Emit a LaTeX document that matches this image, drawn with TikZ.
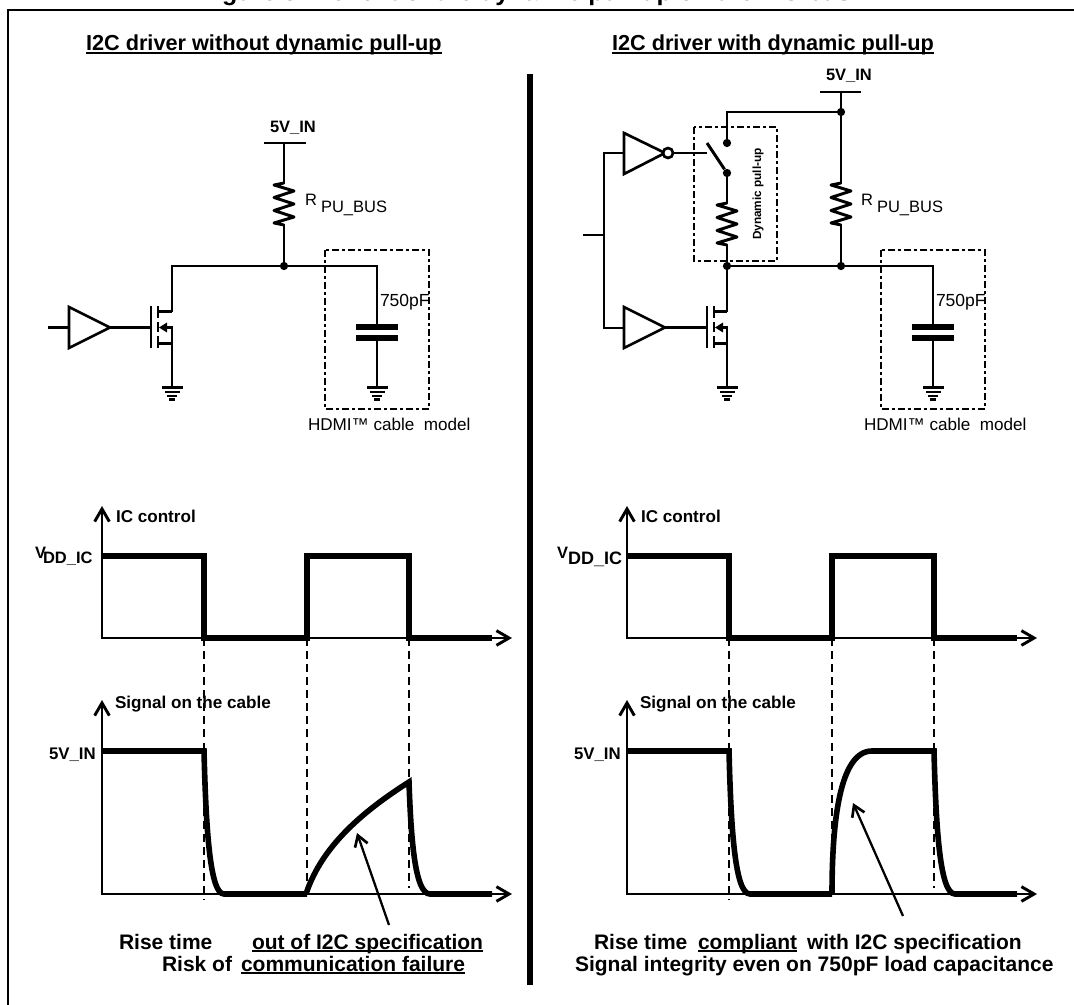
\documentclass[tikz,border=0pt]{standalone}
\usepackage{fontspec}
\setmainfont{Liberation Sans}
\usetikzlibrary{arrows.meta}
\newcommand\rgfont[1]{\fontsize{\dimexpr#1pt*3/4\relax}{\dimexpr#1pt\relax}\selectfont}
\newcommand\bdfont[1]{\fontsize{\dimexpr#1pt*3/4\relax}{\dimexpr#1pt\relax}\selectfont\bfseries}
\newcommand\ulbar[1]{\setbox0\hbox{#1}\rlap{\rule[-2.6pt]{\wd0}{1.7pt}}\box0}
\tikzset{
 wire/.style={line width=2.2pt,line join=miter,line cap=rect},
 txt/.style={inner sep=0pt,outer sep=0pt,anchor=base west},
 dot/.style={circle,fill=black,inner sep=0pt,minimum size=6.2pt},
 dashbox/.style={line width=2pt,dash pattern=on 5pt off 2.5pt on 2pt off 2.5pt},
 pulse/.style={line width=4.2pt,line join=miter,line cap=butt},
 syncline/.style={line width=2pt,dash pattern=on 6pt off 3.8pt},
 axisline/.style={line width=1.9pt,-{Straight Barb[length=9.5pt,width=11pt,line width=2.2pt]}},
 note/.style={line width=1.7pt,-{Straight Barb[length=8pt,width=10pt,line width=2pt]}},
 ampbox/.style={line width=2pt,line join=miter},
 plate/.style={line width=4pt},
}
% resistor: x, top y
\newcommand\resis[2]{%
 \draw[wire,line cap=butt,line join=round] (#1,#2)--(#1-10,#2+2)--(#1+10,#2+8)--(#1-10,#2+14.5)--(#1+10,#2+21)--(#1-10,#2+27.5)--(#1+10,#2+34)--(#1-10,#2+40)--(#1,#2+42);}
% ground: x, top y
\newcommand\gnd[2]{%
 \fill (#1-10.5,#2-1.5) rectangle (#1+10.5,#2+1.5);
 \fill (#1-7.5,#2+3) rectangle (#1+7.5,#2+5.2);
 \fill (#1-5,#2+6.6) rectangle (#1+5,#2+8.8);
 \fill (#1-3,#2+10) rectangle (#1+3,#2+12.5);}
% mosfet: gate x, centre y, rail x
\newcommand\fet[3]{%
 \draw[wire,line cap=butt] (#1,#2-21)--(#1,#2+21);
 \draw[wire,line cap=butt] (#1+7,#2-21)--(#1+7,#2-9);
 \draw[wire,line cap=butt] (#1+7,#2-5)--(#1+7,#2+5);
 \draw[wire,line cap=butt] (#1+7,#2+9)--(#1+7,#2+21);
 \draw[wire,line cap=butt] (#1+7,#2-16)--(#3,#2-16);
 \draw[wire,line cap=butt] (#1+7,#2+16)--(#3,#2+16);
 \draw[wire,line cap=butt] (#1+14,#2)--(#3,#2);
 \fill (#1+8,#2)--(#1+16,#2-5)--(#1+16,#2+5)--cycle;}
\begin{document}
\begin{tikzpicture}[x=0.75pt,y=-0.75pt]
\useasboundingbox (0,0) rectangle (1074,1005);
\fill[white] (0,0) rectangle (1074,1005);
% frame and divider
\coordinate (frTL) at (8,10);
\coordinate (frTR) at (1074,10);
\coordinate (frBL) at (8,1005);
\draw[line width=2pt] (frBL)--(frTL)--(frTR);
\coordinate (divT) at (530,74);
\coordinate (divB) at (530,985);
\draw[line width=4.2pt] (divT)--(divB);
% clipped caption
\node[txt] (cap) at (200,1) {\bdfont{25}Figure 5. Benefit of the dynamic pull-up on the I2C bus};
% headings
\node[txt] (hl) at (86,51) {\bdfont{21.7}\ulbar{I2C driver without dynamic pull-up}};
\node[txt] (hr) at (612,51) {\bdfont{21.7}\ulbar{I2C driver with dynamic pull-up}};

%%% LEFT CIRCUIT
\coordinate (lvcc) at (284,143);
\coordinate (lvccA) at (264,143);
\coordinate (lvccB) at (306,143);
\draw[wire,line cap=butt] (lvccA)--(lvccB);
\node[txt] (lv) at (270,133) {\bdfont{16.5}5V\_IN};
\coordinate (lrt) at (284,183);
\coordinate (lrb) at (284,225);
\draw[wire] (lvcc)--(lrt);
\resis{284}{183}
\node[dot] (lj) at (284,266) {};
\draw[wire] (lrb)--(lj);
\node[txt] (lrR) at (305,206) {\rgfont{16.5}R};
\node[txt] (lrS) at (321,213) {\rgfont{16.5}PU\_BUS};
\coordinate (ld) at (172,266);
\coordinate (lc) at (377,266);
\draw[wire] (ld)--(lj)--(lc);
\coordinate (lcp1) at (377,327);
\coordinate (lcp2) at (377,338);
\draw[plate] (356,327)--(398,327);
\draw[plate] (356,338)--(398,338);
\coordinate (lcg) at (377,388);
\draw[wire,line cap=butt] (lc)--(lcp1) (lcp2)--(lcg);
\gnd{377}{388}
\draw[dashbox] (325,250) rectangle (429,409);
\node[txt] (lcv) at (380,307) {\rgfont{17.5}750pF};
\node[txt] (lh) at (308,430) {\rgfont{17.1}HDMI™ cable\ \ model};
% driver
\coordinate (li) at (48,327.5);
\coordinate (lia) at (69,327.5);
\coordinate (lao) at (110,327.5);
\coordinate (lg) at (151,327.5);
\draw[ampbox] (69,307)--(110,327.5)--(69,348)--cycle;
\draw[wire,line cap=butt] (li)--(lia);
\draw[wire,line cap=butt] (lao)--(lg);
\fet{151}{327.5}{172}
\coordinate (lgnd) at (172,388);
\draw[wire,line cap=butt] (ld)--(172,312.5);
\draw[wire,line cap=butt] (172,326)--(lgnd);
\gnd{172}{388}

%%% RIGHT CIRCUIT
\coordinate (rvA) at (820,92);
\coordinate (rvB) at (861,92);
\coordinate (rv) at (841,92);
\draw[wire,line cap=butt] (rvA)--(rvB);
\node[txt] (rvt) at (826,81) {\bdfont{16.5}5V\_IN};
\node[dot] (rtop) at (841,112) {};
\coordinate (rrt) at (841,183);
\coordinate (rrb) at (841,225);
\node[dot] (rj) at (841,266) {};
\draw[wire] (rv)--(rtop)--(rrt);
\resis{841}{183}
\draw[wire] (rrb)--(rj);
\node[txt] (rrR) at (861,206) {\rgfont{16.5}R};
\node[txt] (rrS) at (877,213) {\rgfont{16.5}PU\_BUS};
\node[dot] (swT) at (727,143) {};
\node[dot] (swB) at (727,173) {};
\coordinate (rtc) at (727,112);
\draw[wire] (swT)--(rtc)--(rtop);
\coordinate (swL) at (707,143);
\draw[wire,line cap=butt] (swL)--(swB);
\coordinate (dpt) at (727,203);
\coordinate (dpb) at (727,245);
\draw[wire] (swB)--(dpt);
\resis{727}{203}
\node[dot] (rd) at (727,266) {};
\draw[wire] (dpb)--(rd);
\draw[dashbox] (694,127) rectangle (777,261);
\node[rotate=90,inner sep=0pt] (dpl) at (758,194) {\bdfont{11.8}Dynamic pull-up};
\coordinate (rc) at (933,266);
\draw[wire] (rd)--(rj)--(rc);
\coordinate (rcp1) at (933,327);
\coordinate (rcp2) at (933,338);
\draw[plate] (912,327)--(954,327);
\draw[plate] (912,338)--(954,338);
\coordinate (rcg) at (933,388);
\draw[wire,line cap=butt] (rc)--(rcp1) (rcp2)--(rcg);
\gnd{933}{388}
\draw[dashbox] (881,250) rectangle (985,409);
\node[txt] (rcv) at (936,307) {\rgfont{17.5}750pF};
\node[txt] (rh) at (864,430) {\rgfont{17.1}HDMI™ cable\ \ model};
% inverter
\draw[ampbox] (624,133)--(665,153)--(624,174)--cycle;
\node[circle,draw,line width=2pt,fill=white,inner sep=0pt,minimum size=7.5pt] (inv) at (668,153) {};
\coordinate (swG) at (707,153);
\draw[wire,line cap=butt] (inv)--(swG);
\coordinate (rsU) at (604,153);
\coordinate (rsD) at (604,328);
\coordinate (rsM) at (604,235);
\coordinate (rin) at (583,235);
\draw[wire,line cap=butt] (rin)--(rsM);
\draw[wire] (624,153)--(rsU)--(rsD)--(624,328);
% lower amp + fet
\draw[ampbox] (624,307)--(665,327.5)--(624,348)--cycle;
\coordinate (rao) at (665,327.5);
\coordinate (rg) at (707,327.5);
\draw[wire,line cap=butt] (rao)--(rg);
\fet{707}{327.5}{727}
\coordinate (rgnd) at (727,388);
\draw[wire,line cap=butt] (rd)--(727,312.5);
\draw[wire,line cap=butt] (727,326)--(rgnd);
\gnd{727}{388}

%%% LEFT TIMING
\draw[axisline] (101.3,638)--(512,638);
\draw[axisline] (102,639)--(102,506);
\draw[pulse] (102,556)--(204,556)--(204,638)--(307,638)--(307,556)--(409,556)--(409,638)--(492,638);
\node[txt] (lic) at (116,522) {\bdfont{17.1}IC control};
\node[txt] (lV) at (35,558) {\bdfont{16.5}V\kern-2.25pt\raisebox{-3.75pt}{DD\_IC}};
\draw[axisline] (101.3,894)--(512,894);
\draw[axisline] (102,895)--(102,700);
\node[txt] (lsc) at (115,708) {\bdfont{17.1}Signal on the cable};
\node[txt] (l5v) at (49,759) {\bdfont{16.8}5V\_IN};
\draw[syncline] (204,638)--(204,900);
\draw[syncline] (307,638)--(307,894);
\draw[syncline] (409,638)--(409,888);
\draw[pulse] (102,751)--(204,751) .. controls (206,830) and (210,894) .. (224,894)--(307,894);
\draw[pulse] (306,894) .. controls (322,845) and (365,810) .. (409,782) .. controls (411,840) and (415,894) .. (430,894)--(492,894);
\coordinate (lnt) at (357,833);
\coordinate (lnf) at (389,925);
\draw[note] (lnf)--(lnt);
\node[txt] (lb1) at (119,949) {\bdfont{21}Rise time};
\node[txt] (lb2) at (252,949) {\bdfont{21}\ulbar{out of I2C specification}};
\node[txt] (lb3) at (162,971) {\bdfont{21}Risk of};
\node[txt] (lb4) at (241,971) {\bdfont{21}\ulbar{communication failure}};

%%% RIGHT TIMING
\draw[axisline] (626.3,638)--(1037,638);
\draw[axisline] (627,639)--(627,506);
\draw[pulse] (627,556)--(729,556)--(729,638)--(832,638)--(832,556)--(934,556)--(934,638)--(1017,638);
\node[txt] (ric) at (641,522) {\bdfont{17.1}IC control};
\node[txt] (rV) at (557,558) {\bdfont{16.5}V{\bdfont{18}\raisebox{-4.5pt}{DD\_IC}}};
\draw[axisline] (626.3,894)--(1037,894);
\draw[axisline] (627,895)--(627,700);
\node[txt] (rsc) at (640,708) {\bdfont{17.1}Signal on the cable};
\node[txt] (r5v) at (574,759) {\bdfont{16.8}5V\_IN};
\draw[syncline] (729,638)--(729,900);
\draw[syncline] (832,638)--(832,894);
\draw[syncline] (934,638)--(934,888);
\draw[pulse] (627,751)--(729,751) .. controls (731,830) and (735,894) .. (750,894)--(832,894);
\draw[pulse] (832,894) .. controls (832,820) and (840,751) .. (872,751)--(934,751) .. controls (936,830) and (940,894) .. (955,894)--(1017,894);
\coordinate (rnt) at (853,803);
\coordinate (rnf) at (903,916);
\draw[note] (rnf)--(rnt);
\node[txt] (rb1) at (594,949) {\bdfont{21}Rise time};
\node[txt] (rb2) at (698,949) {\bdfont{21}\ulbar{compliant}};
\node[txt] (rb3) at (807,949) {\bdfont{21}with I2C specification};
\node[txt] (rb4) at (575,971) {\bdfont{21}Signal integrity even on 750pF load capacitance};
\end{tikzpicture}
\end{document}
